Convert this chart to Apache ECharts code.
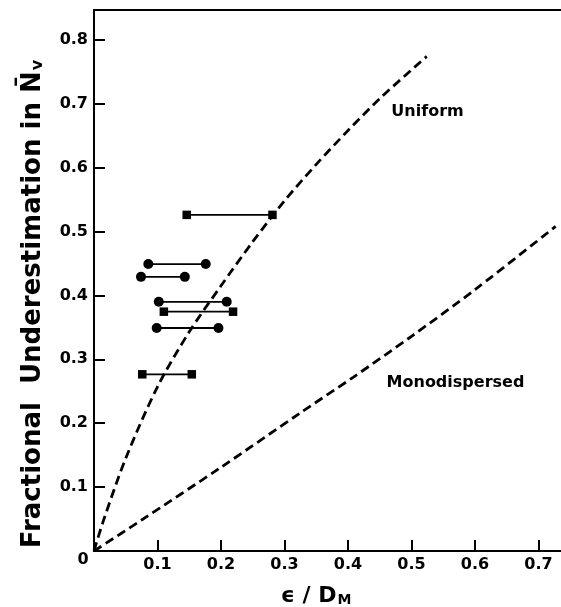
<!DOCTYPE html>
<html><head><meta charset="utf-8">
<script src="https://cdn.jsdelivr.net/npm/echarts@6/dist/echarts.min.js"></script>
<style>html,body{margin:0;padding:0;background:#fff}#c{width:561px;height:607px}</style>
</head><body><div id="c"></div><script>
// ---- data ----
const xTicks = [0.1, 0.2, 0.3, 0.4, 0.5, 0.6, 0.7];
const yTicks = [0.1, 0.2, 0.3, 0.4, 0.5, 0.6, 0.7, 0.8];

const uniformX = [0, 0.015, 0.05, 0.1, 0.15, 0.2, 0.25, 0.3, 0.35, 0.4, 0.45, 0.524];
const uniformY = [0, 0.048, 0.145, 0.257, 0.343, 0.415, 0.484, 0.548, 0.605, 0.658, 0.708, 0.774];

const monoX = [0, 0.075, 0.2, 0.324, 0.408, 0.5, 0.6, 0.727];
const monoY = [0, 0.0485, 0.131, 0.2155, 0.2718, 0.336, 0.409, 0.508];

const circleY      = [0.449, 0.429, 0.390, 0.349];
const circleXLeft  = [0.0855, 0.074, 0.102, 0.0987];
const circleXRight = [0.176, 0.143, 0.209, 0.196];

const squareY      = [0.526, 0.3745, 0.2765];
const squareXLeft  = [0.146, 0.110, 0.076];
const squareXRight = [0.281, 0.219, 0.154];

const curveNames  = ['Uniform', 'Monodispersed'];
const curveLabelX = [0.526, 0.570];
const curveLabelY = [0.687, 0.263];

// ---- chart ----
const FONT = '"DejaVu Sans", "Liberation Sans", sans-serif';
const zip = (a, b) => a.map((v, i) => [v, b[i]]);
const series = [];
series.push({
  type: 'line', name: curveNames[0], data: zip(uniformX, uniformY), smooth: 0.3,
  symbol: 'none', lineStyle: { color: '#000', width: 2.8, type: [9, 5] }, z: 3
});
series.push({
  type: 'line', name: curveNames[1], data: zip(monoX, monoY), smooth: 0.3,
  symbol: 'none', lineStyle: { color: '#000', width: 2.8, type: [9, 5] }, z: 3
});
circleY.forEach((y, i) => series.push({
  type: 'line', data: [[circleXLeft[i], y], [circleXRight[i], y]],
  symbol: 'circle', symbolSize: 10, itemStyle: { color: '#000' },
  lineStyle: { color: '#000', width: 1.8 }, z: 2
}));
squareY.forEach((y, i) => series.push({
  type: 'line', data: [[squareXLeft[i], y], [squareXRight[i], y]],
  symbol: 'rect', symbolSize: 8.5, itemStyle: { color: '#000' },
  lineStyle: { color: '#000', width: 1.8 }, z: 2
}));
series.push({
  type: 'scatter', symbolSize: 1, silent: true,
  data: curveNames.map((n, i) => ({ value: [curveLabelX[i], curveLabelY[i]], name: n })),
  label: {
    show: true, position: [0, 0], align: 'center', verticalAlign: 'middle', formatter: p => p.name,
    color: '#000', opacity: 1, fontFamily: FONT, fontWeight: 'bold', fontSize: 16
  },
  itemStyle: { color: 'rgba(0,0,0,0)' },
  emphasis: { disabled: true }
});

const tickLabel = {
  color: '#000', fontFamily: FONT, fontWeight: 'bold', fontSize: 16,
  formatter: v => Number(v).toFixed(1)
};

const option = {
  animation: false,
  backgroundColor: '#fff',
  grid: { left: 94, right: 0, top: 10, bottom: 56, containLabel: false, outerBoundsMode: 'none' },
  xAxis: [{
    type: 'value', min: 0, max: 0.7354, position: 'bottom',
    axisLine: { onZero: false, lineStyle: { color: '#000', width: 2 } },
    axisTick: { inside: true, length: 11, customValues: xTicks, lineStyle: { color: '#000', width: 2 } },
    axisLabel: Object.assign({ customValues: xTicks, margin: 6 }, tickLabel),
    splitLine: { show: false }
  }, {
    type: 'value', min: 0, max: 0.7354, position: 'top',
    axisLine: { show: true, onZero: false, lineStyle: { color: '#000', width: 2 } },
    axisTick: { show: false }, axisLabel: { show: false }, splitLine: { show: false }
  }],
  yAxis: {
    type: 'value', min: 0, max: 0.8466,
    axisLine: { show: true, onZero: false, lineStyle: { color: '#000', width: 2 } },
    axisTick: { show: true, inside: true, length: 11, customValues: yTicks, lineStyle: { color: '#000', width: 2 } },
    axisLabel: Object.assign({ customValues: yTicks, margin: 6 }, tickLabel),
    splitLine: { show: false }
  },
  graphic: [
    { type: 'text', x: 83, y: 560, style: { text: '0', fill: '#000', font: 'bold 16px ' + FONT, align: 'center', verticalAlign: 'middle' } },
    { type: 'text', x: 316, y: 596, style: {
        text: '{a|\u03F5 / D}{s|M}', fill: '#000', align: 'center', verticalAlign: 'middle',
        rich: {
          a: { fontFamily: FONT, fontWeight: 'bold', fontSize: 22, fill: '#000' },
          s: { fontFamily: FONT, fontWeight: 'bold', fontSize: 14, fill: '#000', padding: [9, 0, 0, 1] }
        } } },
    { type: 'text', x: 33, y: 304, rotation: Math.PI / 2, style: {
        text: '{t|Fractional  Underestimation in N\u0304}{s|v}', fill: '#000', align: 'center', verticalAlign: 'middle',
        rich: {
          t: { fontFamily: FONT, fontWeight: 'bold', fontSize: 26, fill: '#000' },
          s: { fontFamily: FONT, fontWeight: 'bold', fontSize: 16, fill: '#000', padding: [10, 0, 0, 1] }
        } } }
  ],
  series: series
};
const chart = echarts.init(document.getElementById('c'), null, { renderer: 'canvas' });
chart.setOption(option);
</script></body></html>
